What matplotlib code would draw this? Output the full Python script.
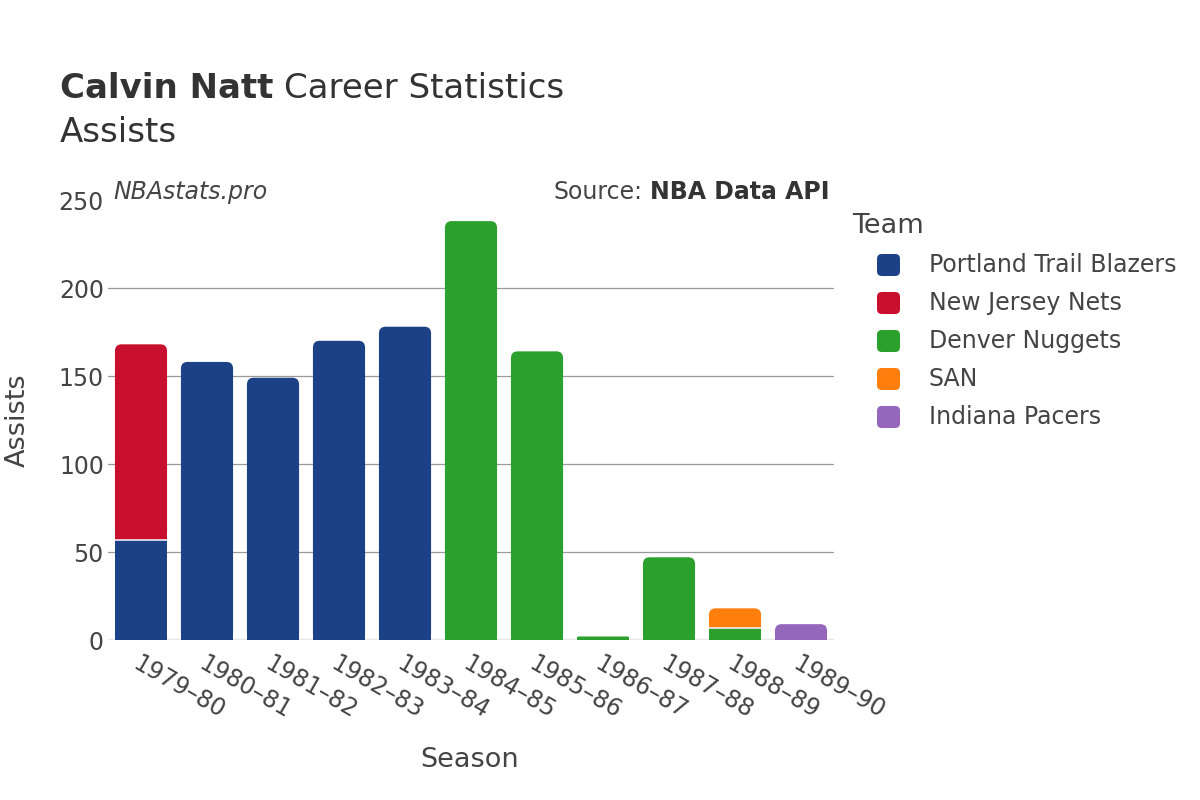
import matplotlib
matplotlib.use("Agg")
import matplotlib.pyplot as plt
from matplotlib.patches import FancyBboxPatch
import numpy as np

plt.rcParams['font.family'] = ['DejaVu Sans']

seasons = ['1979–80', '1980–81', '1981–82', '1982–83', '1983–84', '1984–85',
           '1985–86', '1986–87', '1987–88', '1988–89', '1989–90']
teams = ['Portland Trail Blazers', 'New Jersey Nets', 'Denver Nuggets', 'SAN', 'Indiana Pacers']
colors = ['#1c4187', '#c8102e', '#2ca02c', '#ff7f0e', '#9467bd']

# assists per team per season (stack order as in the picture)
portland = [57, 158, 149, 170, 178, 0, 0, 0, 0, 0, 0]
nets = [111, 0, 0, 0, 0, 0, 0, 0, 0, 0, 0]
denver = [0, 0, 0, 0, 0, 238, 164, 2, 47, 7, 0]
san = [0, 0, 0, 0, 0, 0, 0, 0, 0, 11, 0]
pacers = [0, 0, 0, 0, 0, 0, 0, 0, 0, 0, 9]
series = [portland, nets, denver, san, pacers]

txt = '#444444'
W, H = 1200, 800

fig = plt.figure(figsize=(12, 8), dpi=100)
ax = fig.add_axes([108 / W, 160 / H, 726 / W, 440 / H])

width = 0.79
rx = 0.1      # corner radius in x data units
ry_full = 3.9  # same radius in y data units

x = np.arange(len(seasons))
bottoms = np.zeros(len(seasons))
totals = np.sum(series, axis=0)
for vals, col in zip(series, colors):
    vals = np.array(vals, dtype=float)
    for i in range(len(seasons)):
        h = vals[i]
        if h <= 0:
            continue
        b = bottoms[i]
        is_top = np.isclose(b + h, totals[i])
        if is_top:
            ry = min(ry_full, h / 2)
            rxx = rx * ry / ry_full
            ax.bar(x[i], h - ry, bottom=b, width=width, color=col, linewidth=0, zorder=3)
            p = FancyBboxPatch((x[i] - width / 2, b), width, h,
                               boxstyle=f"round,pad=0,rounding_size={rxx}",
                               mutation_aspect=ry / rxx, facecolor=col,
                               linewidth=0, zorder=3)
            ax.add_patch(p)
        else:
            ax.bar(x[i], h, bottom=b, width=width, color=col, linewidth=0, zorder=3)
        if b > 0:
            ax.plot([x[i] - width / 2, x[i] + width / 2], [b, b], color='#f0eaf5',
                    linewidth=1.2, zorder=4, solid_capstyle='butt')
    bottoms += vals

ax.set_xlim(-0.5, len(seasons) - 0.5)
ax.set_ylim(0, 250)
ax.set_yticks([0, 50, 100, 150, 200, 250])
for yv in [50, 100, 150, 200]:
    ax.axhline(yv, color='#999999', linewidth=0.9, zorder=0)
ax.axhline(0, color='#e8e8e8', linewidth=2.5, zorder=2)
for s in ax.spines.values():
    s.set_visible(False)
ax.tick_params(axis='both', length=0, labelsize=17, labelcolor=txt)
ax.tick_params(axis='y', pad=3)
ax.set_xticks(x)
ax.set_xticklabels(seasons, rotation=-30, ha='left', va='top', rotation_mode='anchor')
ax.tick_params(axis='x', pad=8)

fig.text(470 / W, 1 - 760 / H, 'Season', ha='center', va='center', fontsize=19.5, color=txt)
fig.text(18 / W, 1 - 420 / H, 'Assists', ha='center', va='center', rotation=90,
         fontsize=19.5, color=txt)

t1 = fig.text(60 / W, 1 - 89 / H, 'Calvin Natt', ha='left', va='center',
              fontsize=24.5, fontweight='bold', color='#333333')
fig.canvas.draw()
bb = t1.get_window_extent()
fig.text(bb.x1 / W + 11 / W, 1 - 89 / H, 'Career Statistics', ha='left', va='center',
         fontsize=24.5, color='#333333')
fig.text(60 / W, 1 - 132 / H, 'Assists', ha='left', va='center', fontsize=24.5, color='#333333')

fig.text(113 / W, 1 - 192 / H, 'NBAstats.pro', ha='left', va='center', fontsize=17,
         style='italic', color=txt)
src = fig.text(830 / W, 1 - 192 / H, 'NBA Data API', ha='right', va='center',
               fontsize=17, fontweight='bold', color='#333333')
fig.canvas.draw()
sb = src.get_window_extent()
fig.text(sb.x0 / W - 8 / W, 1 - 192 / H, 'Source:', ha='right', va='center',
         fontsize=17, color=txt)

# legend, drawn by hand to match spacing
fig.text(852 / W, 1 - 226 / H, 'Team', ha='left', va='center', fontsize=19.5, color=txt)
for k, (name, col) in enumerate(zip(teams, colors)):
    yc = 265 + 38 * k
    sq = FancyBboxPatch((877 / W, 1 - (yc + 11) / H), 23 / W, 22 / H,
                        boxstyle="round,pad=0,rounding_size=0.004",
                        mutation_aspect=W / H, transform=fig.transFigure,
                        facecolor=col, linewidth=0)
    fig.patches.append(sq)
    fig.text(929 / W, 1 - yc / H, name, ha='left', va='center', fontsize=17, color=txt)

fig.savefig('out.png', dpi=100, facecolor='white')
